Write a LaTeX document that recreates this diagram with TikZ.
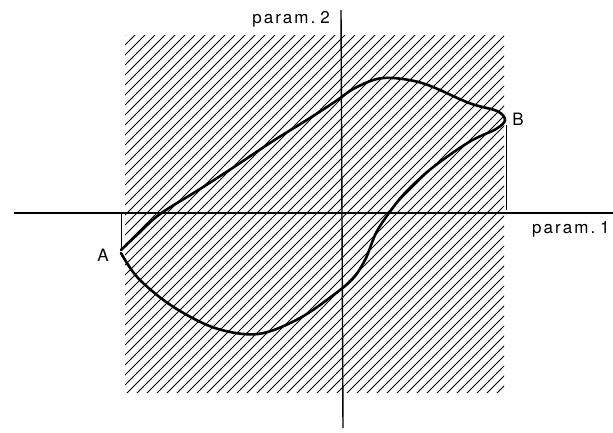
\documentclass[tikz,border=0pt]{standalone}
\usepackage{fontspec}
\setmainfont{TeX Gyre Heros}
\newfontfamily\lblfont[LetterSpace=12,WordSpace=0.4]{TeX Gyre Heros}
\begin{document}
\begin{tikzpicture}[x=1pt,y=-1pt,
  hatch/.style={line width=0.85pt},
  axis/.style={line width=1.4pt},
  guide/.style={line width=1pt},
  curve/.style={line width=2.6pt,line join=round,line cap=round},
  lbl/.style={font=\lblfont\fontsize{17}{17}\selectfont, inner sep=0pt}]
\useasboundingbox (0,0) rectangle (613,432);
% hatching
\begin{scope}
  \clip (125,35) rectangle (504,392);
  \foreach \c in {-300,-290,...,520}{
    \draw[hatch] (\c,400) -- (\c+380,20);
  }
\end{scope}
% axes
\coordinate (xl) at (14,213);
\coordinate (xr) at (613,213);
\coordinate (yt) at (341,10);
\coordinate (yb) at (343,428);
\draw[axis] (xl) -- (xr);
\draw[axis] (yt) -- (yb);
% points
\coordinate (A) at (121,250);
\coordinate (Ab) at (121,213);
\coordinate (B) at (506,125);
\coordinate (Bb) at (506,210);
\draw[guide] (Ab) -- (A);
\draw[guide] (B) -- (Bb);
% curve
\draw[curve] plot[smooth,tension=0.55] coordinates {
 (121,250) (140,232) (160,214) (200,189) (234,167) (273,141) (310,118)
 (336,101) (355,88) (383,78) (422,83) (469,103) (497,111) (505,120)
 (496,129) (469,142) (432,168) (405,193) (389,213) (376,233) (366,258)
 (355,276) (340,290) (300,318) (258,334) (215,328) (172,306) (138,278) (121,253)};
% labels
\node[lbl] (p2) at (291,19) {param. 2};
\node[lbl,anchor=west] (p1) at (532,229) {param. 1};
\node[lbl] (la) at (103,255) {A};
\node[lbl] (lb) at (518,119) {B};
\end{tikzpicture}
\end{document}
